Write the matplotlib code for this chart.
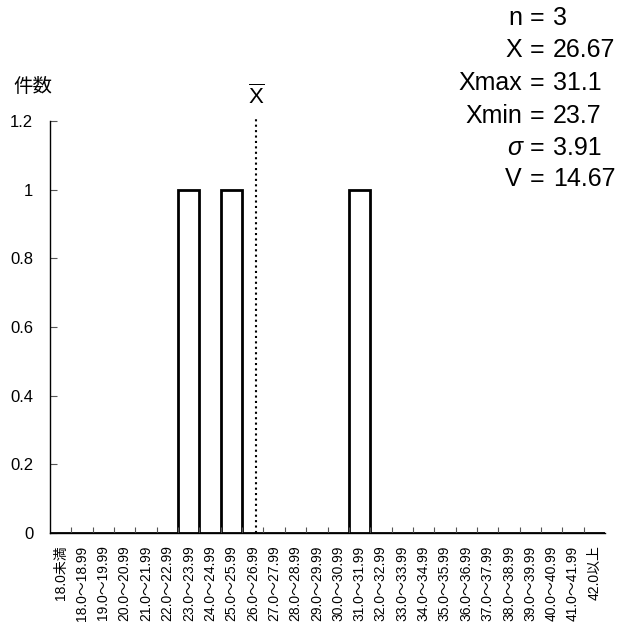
"""度数分布ヒストグラム (n=3) の再現."""
import matplotlib

matplotlib.use("Agg")
import matplotlib.pyplot as plt

plt.rcParams["font.family"] = ["Liberation Sans", "Noto Sans CJK JP", "DejaVu Sans"]
plt.rcParams["mathtext.fontset"] = "custom"
plt.rcParams["mathtext.rm"] = "Liberation Sans"

# 階級ラベル
categories = ["18.0未満"] + [f"{v}.0～{v}.99" for v in range(18, 42)] + ["42.0以上"]
counts = [0, 0, 0, 0, 0, 0, 1, 0, 1, 0, 0, 0, 0, 0, 1, 0, 0, 0, 0, 0, 0, 0, 0, 0, 0, 0]
yticks = [0, 0.2, 0.4, 0.6, 0.8, 1, 1.2]
ytick_labels = ["0", "0.2", "0.4", "0.6", "0.8", "1", "1.2"]

n = 3
mean = 26.67
xmax = 31.1
xmin = 23.7
sigma = 3.91
var = 14.67

fig = plt.figure(figsize=(6.21, 6.34), dpi=100)
ax = fig.add_axes([50 / 621, 1 - 533 / 634, 555 / 621, 412 / 634])

xs = [i + 0.5 for i in range(len(categories))]
ax.bar(xs, counts, width=1.0, facecolor="white", edgecolor="black", linewidth=2)

# 平均の位置 (18.0 が境界 1)
mpos = 1 + (mean - 18.0)
ax.vlines(mpos, 0, 1.21, colors="black", linestyles=(0, (1, 1.6)), linewidth=1.5, clip_on=False)
ax.text(mpos, 1.235, r"$\overline{\mathrm{X}}$", ha="center", va="bottom", fontsize=16)

ax.set_xlim(0, len(categories))
ax.set_ylim(0, 1.2)
for s in ("top", "right"):
    ax.spines[s].set_visible(False)
ax.spines["left"].set_linewidth(1.0)
ax.spines["bottom"].set_linewidth(1.0)

ax.set_xticks(range(1, len(categories)))
ax.set_xticklabels([])
ax.set_xticks(xs, minor=True)
ax.set_xticklabels(categories, minor=True, rotation=90, fontsize=10)
ax.tick_params(axis="x", which="major", direction="in", length=4, width=0.8, color="#555555")
ax.tick_params(axis="x", which="minor", length=0, pad=9)

ax.set_yticks(yticks)
ax.set_yticklabels(ytick_labels, fontsize=12)
ax.tick_params(axis="y", direction="in", length=5, width=0.8, color="#555555", pad=12)

fig.text(13 / 621, 1 - 87 / 634, "件数", fontsize=14, va="center", ha="left",
         fontfamily="Noto Sans CJK JP")

# 統計量
labels = ["n", "X", "Xmax", "Xmin", "σ", "V"]
values = [f"{n}", f"{mean:.2f}", f"{xmax}", f"{xmin}", f"{sigma:.2f}", f"{var:.2f}"]
ys = [18, 50, 83, 116, 148, 179]
for lab, val, y in zip(labels, values, ys):
    fy = 1 - y / 634
    fig.text(522 / 621, fy, lab, ha="right", va="center", fontsize=18,
             fontstyle="italic" if lab == "σ" else "normal")
    fig.text(537 / 621, fy, "=", ha="center", va="center", fontsize=18)
    fig.text(553 / 621, fy, val, ha="left", va="center", fontsize=18)

fig.savefig("out.png", dpi=100)
